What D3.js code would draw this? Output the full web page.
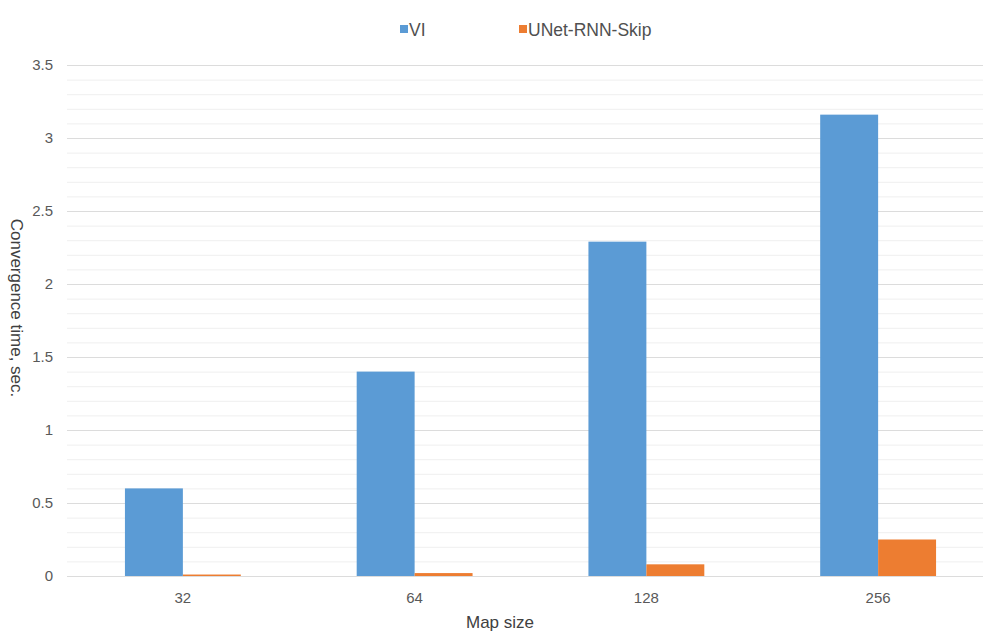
<!DOCTYPE html>
<html>
<head>
<meta charset="utf-8">
<script src="https://cdn.jsdelivr.net/npm/d3@7"></script>
<style>
  html, body { margin: 0; padding: 0; background: #ffffff; }
  svg { display: block; font-family: "Liberation Sans", Arial, sans-serif; }
</style>
</head>
<body>
<svg id="chart" width="983" height="633"></svg>
<script>
// Map sizes and convergence times (seconds)
const categories = ["32", "64", "128", "256"];
const seriesNames = ["VI", "UNet-RNN-Skip"];
const viTimes = [0.60, 1.40, 2.29, 3.16];
const unetTimes = [0.01, 0.02, 0.08, 0.25];
const yTicks = [0, 0.5, 1, 1.5, 2, 2.5, 3, 3.5];
const yMinorTicks = d3.range(0, 35).map(i => i / 10);

const colors = ["#5b9bd5", "#ed7d31"];
const seriesValues = [viTimes, unetTimes];

const svg = d3.select("#chart");
const plot = { left: 67, right: 994, top: 65, bottom: 576 };

const x = d3.scaleBand().domain(categories).range([plot.left, plot.right]).paddingInner(0).paddingOuter(0);
const groupWidth = x.bandwidth() * 0.5;
const xSub = d3.scaleBand().domain(seriesNames).range([0, groupWidth]);
const y = d3.scaleLinear().domain([0, 3.5]).range([plot.bottom, plot.top]);

// minor gridlines
svg.append("g")
  .selectAll("line")
  .data(yMinorTicks.filter(v => Math.abs(v * 2 - Math.round(v * 2)) > 1e-6))
  .join("line")
  .attr("x1", plot.left).attr("x2", plot.right)
  .attr("y1", d => y(d) + 0.5).attr("y2", d => y(d) + 0.5)
  .attr("stroke", "#efefef").attr("stroke-width", 1);

// major gridlines
svg.append("g")
  .selectAll("line")
  .data(yTicks)
  .join("line")
  .attr("x1", plot.left).attr("x2", plot.right)
  .attr("y1", d => y(d) + 0.5).attr("y2", d => y(d) + 0.5)
  .attr("stroke", "#dcdcdc").attr("stroke-width", 1);

// y axis labels
const yAxis = d3.axisLeft(y).tickValues(yTicks).tickSize(0).tickPadding(0).tickFormat(d3.format("~g"));
svg.append("g")
  .attr("transform", `translate(${plot.left - 14},0)`)
  .call(yAxis)
  .call(g => g.select(".domain").remove())
  .selectAll("text")
  .attr("fill", "#595959").attr("font-size", 15)
  .attr("font-family", "'Liberation Sans', Arial, sans-serif");

// x axis labels
const xAxis = d3.axisBottom(x).tickSize(0).tickPadding(0);
svg.append("g")
  .attr("transform", `translate(0,${plot.bottom + 16})`)
  .call(xAxis)
  .call(g => g.select(".domain").remove())
  .selectAll("text")
  .attr("fill", "#595959").attr("font-size", 15)
  .attr("font-family", "'Liberation Sans', Arial, sans-serif");

// bars
const groups = svg.append("g")
  .selectAll("g")
  .data(categories)
  .join("g")
  .attr("transform", d => `translate(${x(d) + (x.bandwidth() - groupWidth) / 2},0)`);

groups.selectAll("rect")
  .data((d, i) => seriesNames.map((s, j) => ({ s, j, v: seriesValues[j][i] })))
  .join("rect")
  .attr("x", d => xSub(d.s))
  .attr("width", xSub.bandwidth())
  .attr("y", d => y(d.v))
  .attr("height", d => y(0) - y(d.v))
  .attr("fill", d => colors[d.j]);

// axis titles
svg.append("text")
  .attr("x", 500).attr("y", 628)
  .attr("text-anchor", "middle")
  .attr("fill", "#404040").attr("font-size", 17)
  .text("Map size");

svg.append("text")
  .attr("transform", `translate(11,308) rotate(90)`)
  .attr("text-anchor", "middle")
  .attr("fill", "#404040").attr("font-size", 17)
  .text("Convergence time, sec.");

// legend
const legendPos = [400, 519];
const legend = svg.append("g")
  .selectAll("g")
  .data(seriesNames)
  .join("g")
  .attr("transform", (d, i) => `translate(${legendPos[i]},0)`);
legend.append("rect")
  .attr("x", 0).attr("y", 25).attr("width", 8).attr("height", 8)
  .attr("fill", (d, i) => colors[i]);
legend.append("text")
  .attr("x", 9).attr("y", 36)
  .attr("fill", "#505050").attr("font-size", 17.5)
  .text(d => d);
</script>
</body>
</html>
